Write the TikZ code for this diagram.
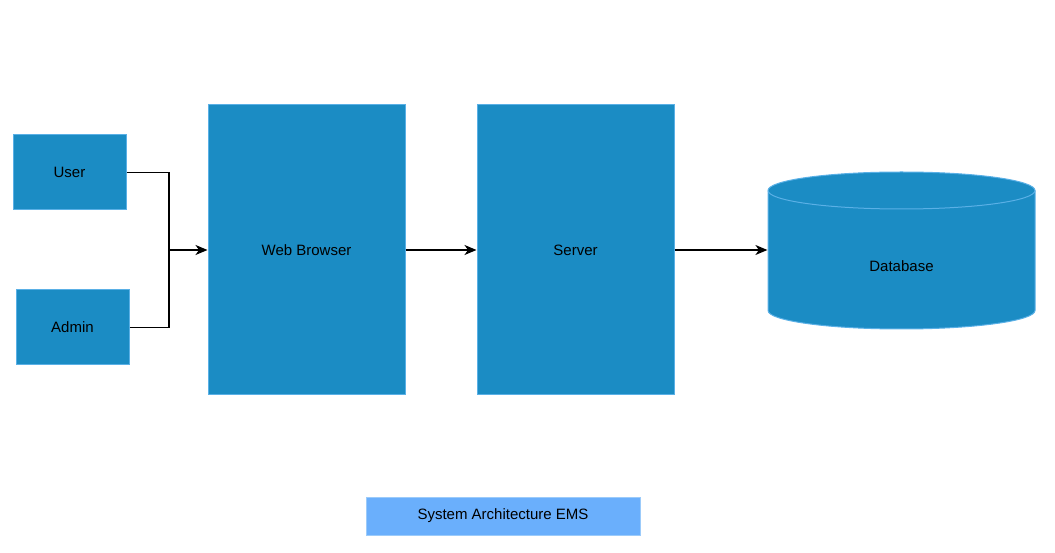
\documentclass[tikz,border=0pt]{standalone}
\usepackage{fontspec}
\setmainfont{Liberation Sans}
\usetikzlibrary{arrows.meta}
\definecolor{boxblue}{HTML}{1B8CC4}
\definecolor{boxedge}{HTML}{5AB0E6}
\definecolor{titleblue}{HTML}{6AAFFC}
\definecolor{titleedge}{HTML}{9CCBFA}
\tikzstyle{actor}=[rectangle, fill=boxblue, draw=boxedge, line width=1pt,
minimum width=113pt, minimum height=75pt, font=\fontsize{15}{18}\selectfont]
\tikzstyle{tier}=[rectangle, fill=boxblue, draw=boxedge, line width=1pt,
minimum width=197pt, minimum height=290pt, font=\fontsize{15}{18}\selectfont]
\tikzstyle{store}=[rectangle, minimum width=267pt, minimum height=157pt]
\tikzstyle{caption}=[rectangle, fill=titleblue, draw=titleedge, line width=1pt,
minimum width=274pt, minimum height=38pt, font=\fontsize{15}{18}\selectfont]

\begin{document}
\begin{tikzpicture}[x=1pt,y=1pt,line width=1.2pt,
>={Stealth[length=12pt,width=10pt,inset=3.5pt]}]
\useasboundingbox (0,0) rectangle (1055,552);
\node[actor](user) at (69.5,379.5){User};
\node[actor](admin) at (72.5,224.5){Admin};
\node[tier](browser) at (306.5,302){Web Browser};
\node[tier](server) at (575.5,302){Server};
\node[store](db) at (901.5,302){};
% database cylinder
\filldraw[fill=boxblue, draw=boxedge, line width=1pt] (768,361.5)
  arc[start angle=180, end angle=0, x radius=133.5, y radius=18.5] -- (1035,241.5)
  arc[start angle=0, end angle=-180, x radius=133.5, y radius=18.5] -- cycle;
\draw[boxedge, line width=1pt] (768,361.5) arc[start angle=180, end angle=360, x radius=133.5, y radius=18.5];
\node[font=\fontsize{15}{18}\selectfont](dblabel) at (901.5,286){Database};
\node[caption](title) at (503,36){System Architecture EMS};
\coordinate (join) at (169,302);
\draw (user.east) -| (join);
\draw (admin.east) -| (join);
\draw [->](join) -- (browser.west);
\draw [->](browser) -- (server);
\draw [->](server.east) -- (db.west);
\end{tikzpicture}
\end{document}
